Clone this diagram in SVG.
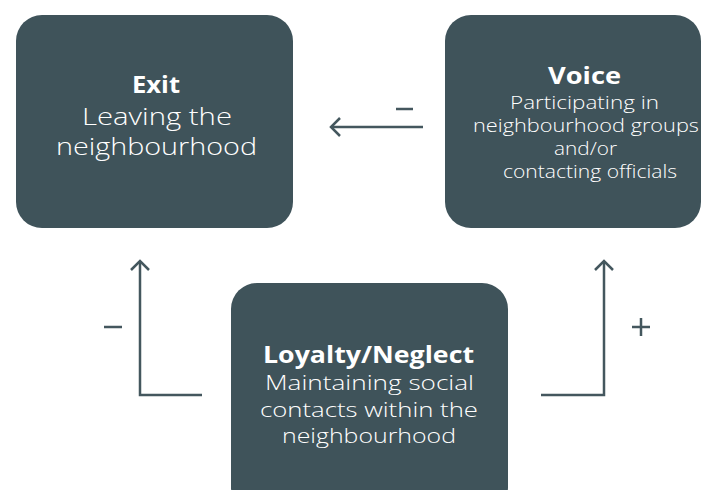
<svg xmlns="http://www.w3.org/2000/svg" width="713" height="490" viewBox="0 0 713 490">
<defs>
<style>
.box{fill:#3f535a;}
.t{fill:#ffffff;font-family:"Open Sans","DejaVu Sans",sans-serif;text-anchor:middle;}
.h{font-weight:bold;font-size:23px;}
.b1{font-size:24px;font-weight:300;}
.b2{font-size:17.5px;font-weight:300;}
.b3{font-size:20px;font-weight:300;}
.ln{fill:none;stroke:#44575e;stroke-width:2.5;}
.sg{fill:none;stroke:#44575e;stroke-width:2.5;}
</style>
<marker id="ah" viewBox="0 0 12 20" markerWidth="12" markerHeight="20" refX="10" refY="10" orient="auto" markerUnits="userSpaceOnUse">
<path d="M1,1 L10,10 L1,19" fill="none" stroke="#44575e" stroke-width="2.5"/>
</marker>
</defs>
<rect width="713" height="490" fill="#ffffff"/>
<g id="exit">
<rect class="box" x="16" y="15" width="277" height="213" rx="26"/>
<text class="t h" x="156" y="93" textLength="48" lengthAdjust="spacingAndGlyphs">Exit</text>
<text class="t b1" x="157" y="125" textLength="150" lengthAdjust="spacingAndGlyphs">Leaving the</text>
<text class="t b1" x="156.5" y="155" textLength="201" lengthAdjust="spacingAndGlyphs">neighbourhood</text>
</g>
<g id="voice">
<rect class="box" x="445" y="15" width="256" height="213" rx="26"/>
<text class="t h" x="584.5" y="84" textLength="73" lengthAdjust="spacingAndGlyphs">Voice</text>
<text class="t b2" x="584.5" y="109" textLength="149" lengthAdjust="spacingAndGlyphs">Participating in</text>
<text class="t b2" x="586" y="132" textLength="226" lengthAdjust="spacingAndGlyphs">neighbourhood groups</text>
<text class="t b2" x="585.5" y="155" textLength="63" lengthAdjust="spacingAndGlyphs">and/or</text>
<text class="t b2" x="590" y="178" textLength="174" lengthAdjust="spacingAndGlyphs">contacting officials</text>
</g>
<g id="loyalty">
<rect class="box" x="231" y="283" width="277" height="230" rx="26"/>
<text class="t h" x="368.5" y="363" textLength="211" lengthAdjust="spacingAndGlyphs">Loyalty/Neglect</text>
<text class="t b3" x="369.5" y="390" textLength="209" lengthAdjust="spacingAndGlyphs">Maintaining social</text>
<text class="t b3" x="369" y="417" textLength="218" lengthAdjust="spacingAndGlyphs">contacts within the</text>
<text class="t b3" x="369" y="443" textLength="174" lengthAdjust="spacingAndGlyphs">neighbourhood</text>
</g>
<g id="connectors">
<path class="ln" d="M423,127 L331,127" marker-end="url(#ah)"/>
<path class="ln" d="M202,395 L140,395 L140,261" marker-end="url(#ah)"/>
<path class="ln" d="M541,395 L604,395 L604,261" marker-end="url(#ah)"/>
<path class="sg" d="M396,109 L413,109"/>
<path class="sg" d="M104,327 L122,327"/>
<path class="sg" d="M632,327 L650,327 M641,318 L641,336"/>
</g>
</svg>
